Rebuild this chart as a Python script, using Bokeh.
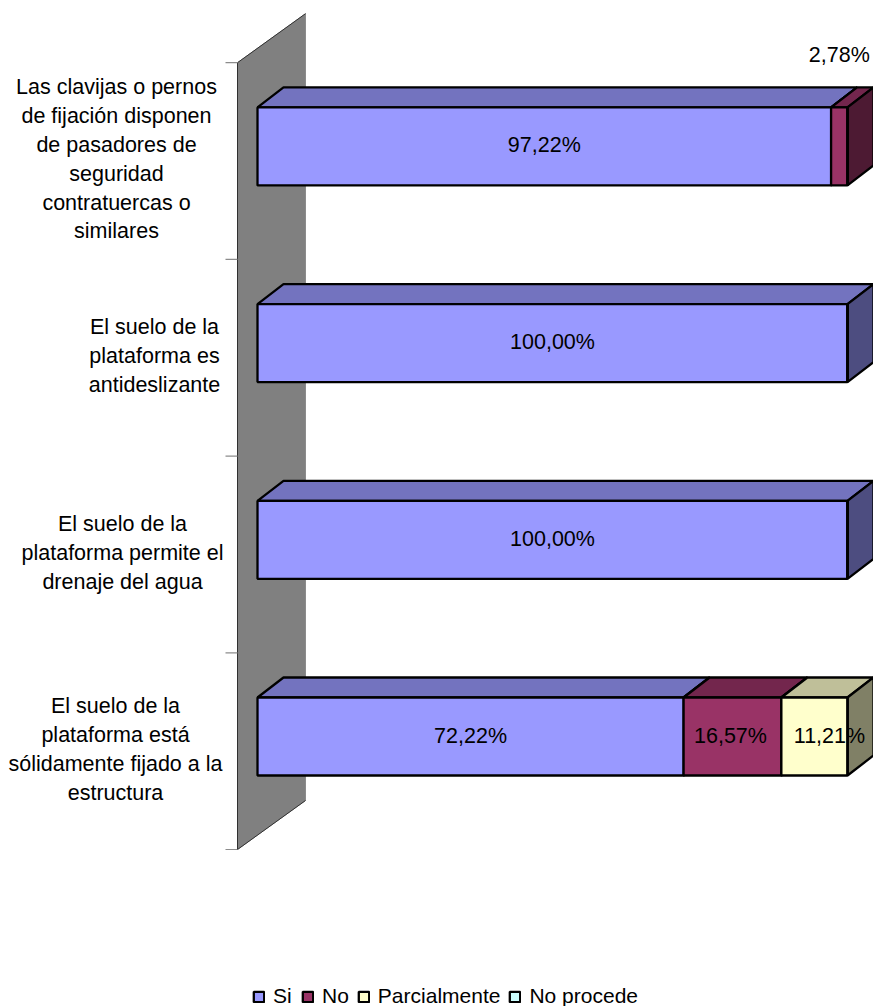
from bokeh.plotting import figure
from bokeh.models import Legend, LegendItem, ColumnDataSource
from bokeh.core.properties import value
from bokeh.embed import file_html
from bokeh.resources import INLINE

# Stacked shares per question, bottom row first
questions = [
    ["El suelo de la", "plataforma está", "sólidamente fijado a la", "estructura"],
    ["El suelo de la", "plataforma permite el", "drenaje del agua"],
    ["El suelo de la", "plataforma es", "antideslizante"],
    ["Las clavijas o pernos", "de fijación disponen", "de pasadores de", "seguridad", "contratuercas o", "similares"],
]
series_names = ["Si", "No", "Parcialmente", "No procede"]
si = [72.22, 100.0, 100.0, 97.22]
no = [16.57, 0.0, 0.0, 2.78]
parcialmente = [11.21, 0.0, 0.0, 0.0]
no_procede = [0.0, 0.0, 0.0, 0.0]

front_colors = ["#9999FF", "#993366", "#FFFFCC", "#CCFFFF"]
top_colors = ["#7373BF", "#73264D", "#BFBF99", "#99BFBF"]
side_colors = ["#4D4D80", "#4D1A33", "#808066", "#668080"]

FONT = "Liberation Sans"
FONT_PX = "21.5px"
W, H = 873, 1006
PX_PER_PCT = 5.9
PX_PER_ROW = 196.7
X0_PX, ROW0_PX = 257, 736
DX = 26 / PX_PER_PCT      # oblique depth of the 3D extrusion
DY = 20 / PX_PER_ROW
HALF = 39 / PX_PER_ROW    # half the bar thickness

p = figure(
    width=W, height=H, output_backend="svg", toolbar_location=None,
    x_range=(-X0_PX / PX_PER_PCT, (W - X0_PX) / PX_PER_PCT),
    y_range=((ROW0_PX - H) / PX_PER_ROW, ROW0_PX / PX_PER_ROW),
    min_border=0, outline_line_color=None, background_fill_color="white",
)
p.axis.visible = False
p.grid.visible = False

# Back wall of the chart, standing behind the category axis
wall_x = -20 / PX_PER_PCT
wall_dx = 68 / PX_PER_PCT
wall_dy = 49 / PX_PER_ROW
wall_low = -113 / PX_PER_ROW
wall_high = wall_low + 4
p.patch(
    [wall_x, wall_x + wall_dx, wall_x + wall_dx, wall_x],
    [wall_low, wall_low + wall_dy, wall_high + wall_dy, wall_high],
    fill_color="#808080", line_color="#8c8c8c", line_width=1,
)
p.line([wall_x, wall_x], [wall_low, wall_high], line_color="#303030", line_width=1)
p.line([wall_x, wall_x + wall_dx], [wall_low, wall_low + wall_dy], line_color="#303030", line_width=1)
p.line([wall_x, wall_x + wall_dx], [wall_high, wall_high + wall_dy], line_color="#303030", line_width=1)

# Axis tick marks at the row boundaries
tick_len = 12 / PX_PER_PCT
for k in range(5):
    yy = wall_low + k
    p.line([wall_x - tick_len, wall_x], [yy, yy], line_color="#8c8c8c", line_width=1.2)

# Extruded stacked bars; empty segments stay as zero-width quads on the stack end
all_series = [si, no, parcialmente, no_procede]
front_renderers = []
for s, vals in enumerate(all_series):
    left, right, bottom, top = [], [], [], []
    side_x, side_y, top_x, top_y = [], [], [], []
    for row, v in enumerate(vals):
        start = sum(all_series[j][row] for j in range(s))
        end = start + v
        lo, hi = row - HALF, row + HALF
        left.append(start); right.append(end); bottom.append(lo); top.append(hi)
        if v <= 0:
            continue
        top_x.append([start, start + DX, end + DX, end])
        top_y.append([hi, hi + DY, hi + DY, hi])
        side_x.append([end, end + DX, end + DX, end])
        side_y.append([lo, lo + DY, hi + DY, hi])
    border = dict(line_color="black", line_width=2.3)
    if top_x:
        p.patches(top_x, top_y, fill_color=top_colors[s], **border)
        p.patches(side_x, side_y, fill_color=side_colors[s], **border)
    src = ColumnDataSource(dict(left=left, right=right, bottom=bottom, top=top))
    r = p.quad(left="left", right="right", bottom="bottom", top="top", source=src,
               fill_color=front_colors[s], **border)
    front_renderers.append(r)

# Value labels, centred in each segment
lab_x, lab_y, lab_text, lab_dx, lab_dy = [], [], [], [], []
for s, vals in enumerate(all_series):
    for row, v in enumerate(vals):
        if v <= 0:
            continue
        start = sum(all_series[j][row] for j in range(s))
        lab_x.append(start + v / 2)
        lab_y.append(row)
        lab_text.append(f"{v:.2f}%".replace(".", ","))
        narrow_top = v < 5
        lab_dx.append(15 if (s == 2) else (-2 if s == 1 and not narrow_top else 0))
        lab_dy.append(-91 if narrow_top else -1)
p.text(lab_x, lab_y, text=lab_text, x_offset=lab_dx, y_offset=lab_dy,
       text_font=value(FONT), text_font_size=FONT_PX, text_color="black",
       text_align="center", text_baseline="middle")

# Category labels, one glyph per wrapped line
label_centers_px = [115, 122, 154, 116]
LINE_PX = 28.8
cx, cy, ct, cdy = [], [], [], []
for row, lines in enumerate(questions):
    for i, line in enumerate(lines):
        cx.append((label_centers_px[row] - X0_PX) / PX_PER_PCT)
        cy.append(row)
        ct.append(line)
        cdy.append((i - (len(lines) - 1) / 2) * LINE_PX + 13)
p.text(cx, cy, text=ct, y_offset=cdy, text_font=value(FONT), text_font_size=FONT_PX,
       text_color="black", text_align="center", text_baseline="middle")

# Legend across the bottom of the page
legend = Legend(
    items=[LegendItem(label=n, renderers=[r]) for n, r in zip(series_names, front_renderers)],
    orientation="horizontal", location=(252, -2), border_line_color=None,
    background_fill_alpha=0, label_text_font=FONT, label_text_font_size="21px",
    label_text_color="black",
    glyph_width=13, glyph_height=13, label_standoff=8, spacing=8, margin=0, padding=0,
    label_height=14,
)
p.add_layout(legend, "center")

open("out.html", "w").write(file_html(p, INLINE))
